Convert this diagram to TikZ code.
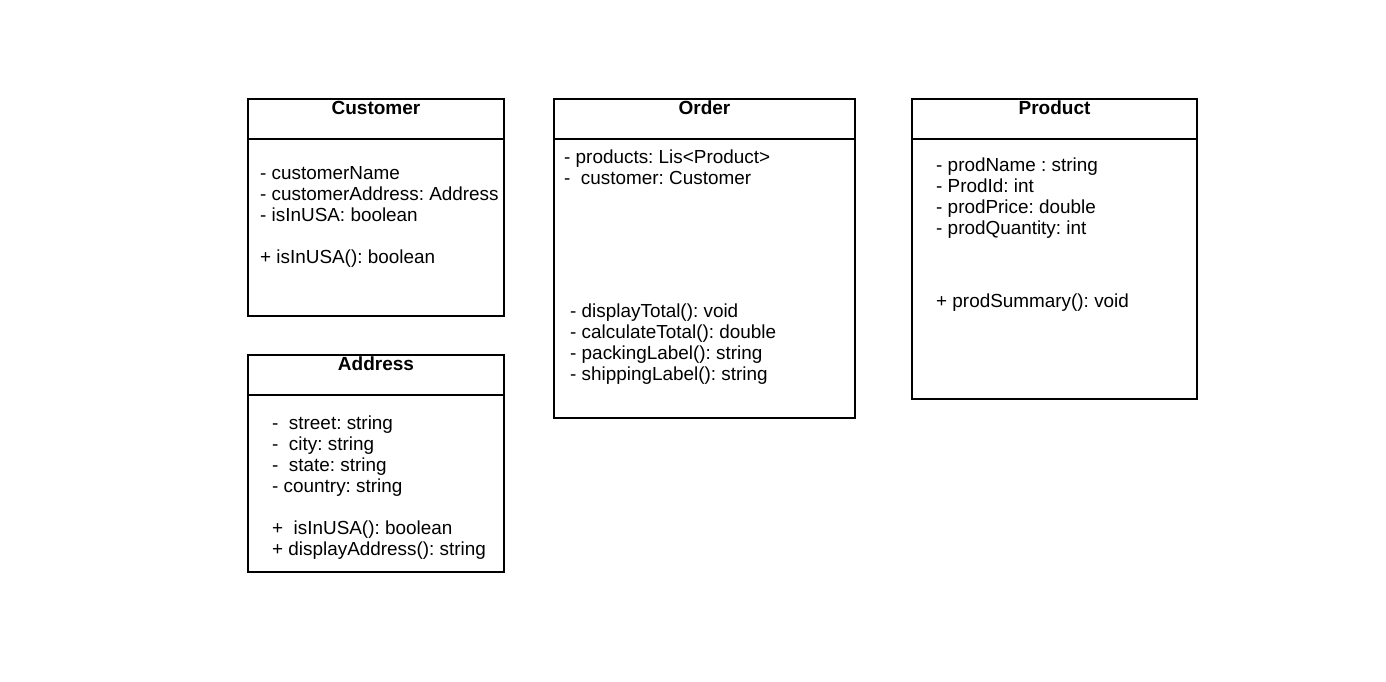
\documentclass[tikz,border=0pt]{standalone}
\usepackage{fontspec}
\setmainfont{Liberation Sans}
\frenchspacing
\begin{document}
\begin{tikzpicture}[x=1pt,y=-1pt,
  box/.style={draw=black,line width=1.6pt,inner sep=0pt,outer sep=0pt},
  divider/.style={draw=black,line width=1.6pt},
  title/.style={font=\fontsize{19}{21}\selectfont\bfseries,anchor=base,inner sep=0pt},
  member/.style={font=\fontsize{18.9}{21}\selectfont,anchor=base west,inner sep=0pt}]
\fill[white] (0,0) rectangle (1386,681);
\useasboundingbox (0,0) rectangle (1386,681);
% Customer
\draw[box] (248,99) rectangle (504,316);
\coordinate (cdl) at (248,139); \coordinate (cdr) at (504,139);
\draw[divider] (cdl) -- (cdr);
\node[title] (ct) at (376,114) {Customer};
\node[member] (c1) at (260,179) {- customerName};
\node[member] (c2) at (260,200) {- customerAddress: Address};
\node[member] (c3) at (260,221) {- isInUSA: boolean};
\node[member] (c4) at (260,263) {+ isInUSA(): boolean};
% Order
\draw[box] (554,99) rectangle (855,418);
\coordinate (odl) at (554,139); \coordinate (odr) at (855,139);
\draw[divider] (odl) -- (odr);
\node[title] (ot) at (704.5,114) {Order};
\node[member] (o1) at (564,163) {- products: Lis<Product>};
\node[member] (o2) at (564,184) {-\ \ customer: Customer};
\node[member] (o3) at (570,317) {- displayTotal(): void};
\node[member] (o4) at (570,338) {- calculateTotal(): double};
\node[member] (o5) at (570,359) {- packingLabel(): string};
\node[member] (o6) at (570,380) {- shippingLabel(): string};
% Product
\draw[box] (912,99) rectangle (1197,399);
\coordinate (pdl) at (912,139); \coordinate (pdr) at (1197,139);
\draw[divider] (pdl) -- (pdr);
\node[title] (pt) at (1054.5,114) {Product};
\node[member] (p1) at (936,171) {- prodName : string};
\node[member] (p2) at (936,192) {- ProdId: int};
\node[member] (p3) at (936,213) {- prodPrice: double};
\node[member] (p4) at (936,234) {- prodQuantity: int};
\node[member] (p5) at (936,307) {+ prodSummary(): void};
% Address
\draw[box] (248,355) rectangle (504,572);
\coordinate (adl) at (248,395); \coordinate (adr) at (504,395);
\draw[divider] (adl) -- (adr);
\node[title] (at) at (376,370) {Address};
\node[member] (a1) at (272,429) {-\ \ street: string};
\node[member] (a2) at (272,450) {-\ \ city: string};
\node[member] (a3) at (272,471) {-\ \ state: string};
\node[member] (a4) at (272,492) {- country: string};
\node[member] (a5) at (272,534) {+\ \ isInUSA(): boolean};
\node[member] (a6) at (272,555) {+ displayAddress(): string};
\end{tikzpicture}
\end{document}
